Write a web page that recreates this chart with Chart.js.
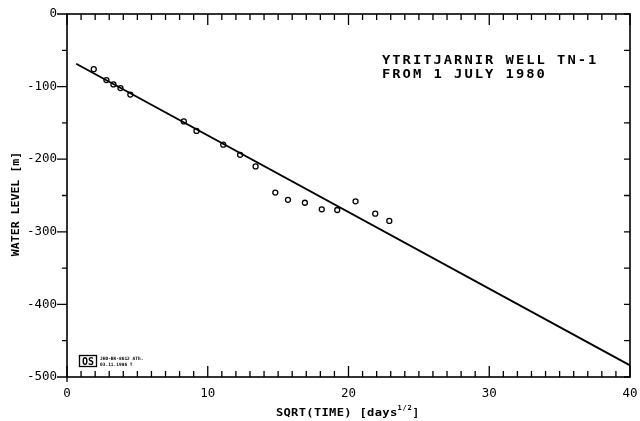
<!DOCTYPE html>
<html>
<head>
<meta charset="utf-8">
<script src="https://cdn.jsdelivr.net/npm/chart.js"></script>
<style>
  body { margin: 0; background: #fff; }
  #wrap { width: 640px; height: 421px; }
</style>
</head>
<body>
<div id="wrap"><canvas id="chartCanvas" width="640" height="421"></canvas></div>
<script>
// measured points, x = sqrt(time) in days^1/2, y = water level in m
const timeRoot = [1.9, 2.8, 3.3, 3.8, 4.5, 8.3, 9.2, 11.1, 12.3, 13.4, 14.8, 15.7, 16.9, 18.1, 19.2, 20.5, 21.9, 22.9];
const waterLevel = [-76, -91, -97, -102, -111, -148, -161, -180, -194, -210, -246, -256, -260, -269, -270, -258, -275, -285];

// straight fitted line, two end points
const fitX = [0.65, 40];
const fitY = [-68.5, -484];

const xTicks = [0, 10, 20, 30, 40];
const yTicks = [0, -100, -200, -300, -400, -500];

const titleLines = ['YTRITJARNIR WELL TN-1', 'FROM 1 JULY 1980'];
const stampLines = ['JHD-BK-8612 ATh.', '03.11.1986 T'];

const FONT = "'DejaVu Sans Mono', monospace";

// plotter style text: fixed advance per character, glyphs a bit widened
function spaced(ctx, str, x, y, step, widen) {
  widen = widen || 1;
  for (let i = 0; i < str.length; i++) {
    ctx.save();
    ctx.translate(x + i * step, y);
    ctx.scale(widen, 1);
    ctx.fillText(str[i], 0, 0);
    ctx.restore();
  }
}

const decor = {
  id: 'decor',
  afterDraw(chart) {
    const { ctx, chartArea: a, scales: { x, y } } = chart;
    ctx.save();
    ctx.strokeStyle = '#000';
    ctx.lineWidth = 1.6;
    ctx.strokeRect(a.left, a.top, a.right - a.left, a.bottom - a.top);

    // ticks: x inward top and bottom, y outward left, inward right
    ctx.lineWidth = 1.3;
    ctx.beginPath();
    for (let v = 0; v <= 40; v++) {
      const px = x.getPixelForValue(v);
      const len = v % 10 === 0 ? 11 : 6;
      ctx.moveTo(px, a.top); ctx.lineTo(px, a.top + len);
      ctx.moveTo(px, a.bottom); ctx.lineTo(px, a.bottom - len);
    }
    ctx.moveTo(a.left, a.bottom); ctx.lineTo(a.left, a.bottom + 5);
    for (let v = 0; v >= -500; v -= 50) {
      const py = y.getPixelForValue(v);
      const len = v % 100 === 0 ? 10 : 5;
      ctx.moveTo(a.left - len, py); ctx.lineTo(a.left, py);
      ctx.moveTo(a.right, py); ctx.lineTo(a.right - 6, py);
    }
    ctx.stroke();

    ctx.fillStyle = '#000';
    ctx.textBaseline = 'alphabetic';
    ctx.textAlign = 'left';

    // annotation top right
    ctx.font = 'bold 12px ' + FONT;
    spaced(ctx, titleLines[0], 382, 64, 10.3, 1.15);
    spaced(ctx, titleLines[1], 382, 78, 10.3, 1.15);

    // x axis title with superscript
    const main = 'SQRT(TIME) [days';
    const st = 7.6;
    const total = main.length * st + 3 * 5 + st;
    const sx = 348 - total / 2;
    ctx.font = 'bold 11px ' + FONT;
    spaced(ctx, main, sx, 415.5, st, 1.1);
    ctx.font = 'bold 7px ' + FONT;
    spaced(ctx, '1/2', sx + main.length * st, 410, 5);
    ctx.font = 'bold 11px ' + FONT;
    ctx.fillText(']', sx + main.length * st + 15, 415.5);

    // y axis title
    ctx.save();
    ctx.translate(19, 204);
    ctx.rotate(-Math.PI / 2);
    ctx.font = 'bold 11px ' + FONT;
    const yt = 'WATER LEVEL [m]';
    spaced(ctx, yt, -yt.length * 6.95 / 2, 0, 6.95, 1.05);
    ctx.restore();

    // stamp bottom left
    ctx.lineWidth = 1.3;
    ctx.strokeRect(79.5, 355.5, 17, 11);
    ctx.font = 'bold 10px ' + FONT;
    ctx.textAlign = 'center';
    ctx.fillText('OS', 88, 365);
    ctx.font = 'bold 4.5px ' + FONT;
    ctx.textAlign = 'left';
    ctx.fillText(stampLines[0], 100, 359.5);
    ctx.fillText(stampLines[1], 100, 366);
    ctx.restore();
  }
};

const ctx = document.getElementById('chartCanvas').getContext('2d');
new Chart(ctx, {
  type: 'scatter',
  data: {
    datasets: [
      {
        type: 'line',
        data: fitX.map((v, i) => ({ x: v, y: fitY[i] })),
        borderColor: '#000',
        borderWidth: 1.8,
        pointRadius: 0,
        fill: false
      },
      {
        data: timeRoot.map((v, i) => ({ x: v, y: waterLevel[i] })),
        pointStyle: 'circle',
        pointRadius: 2.5,
        borderColor: '#000',
        backgroundColor: 'rgba(255,255,255,0)',
        borderWidth: 1.3
      }
    ]
  },
  options: {
    responsive: false,
    animation: false,
    devicePixelRatio: 1,
    layout: { padding: { left: 0, top: 14, right: 10, bottom: 0 } },
    plugins: { legend: { display: false }, tooltip: { enabled: false } },
    scales: {
      x: {
        type: 'linear', min: 0, max: 40,
        afterBuildTicks: s => { s.ticks = xTicks.map(v => ({ value: v })); },
        afterFit: s => { s.height = 44; s.paddingLeft = 0; s.paddingRight = 0; },
        grid: { display: false, drawTicks: false },
        border: { display: false },
        ticks: { color: '#000', padding: 9, maxRotation: 0, font: { family: FONT, size: 12.5 } }
      },
      y: {
        type: 'linear', min: -500, max: 0,
        afterBuildTicks: s => { s.ticks = yTicks.map(v => ({ value: v })); },
        afterFit: s => { s.width = 67; s.paddingTop = 0; s.paddingBottom = 0; },
        grid: { display: false, drawTicks: false },
        border: { display: false },
        ticks: { color: '#000', padding: 10, font: { family: FONT, size: 12.5 } }
      }
    }
  },
  plugins: [decor]
});
</script>
</body>
</html>
